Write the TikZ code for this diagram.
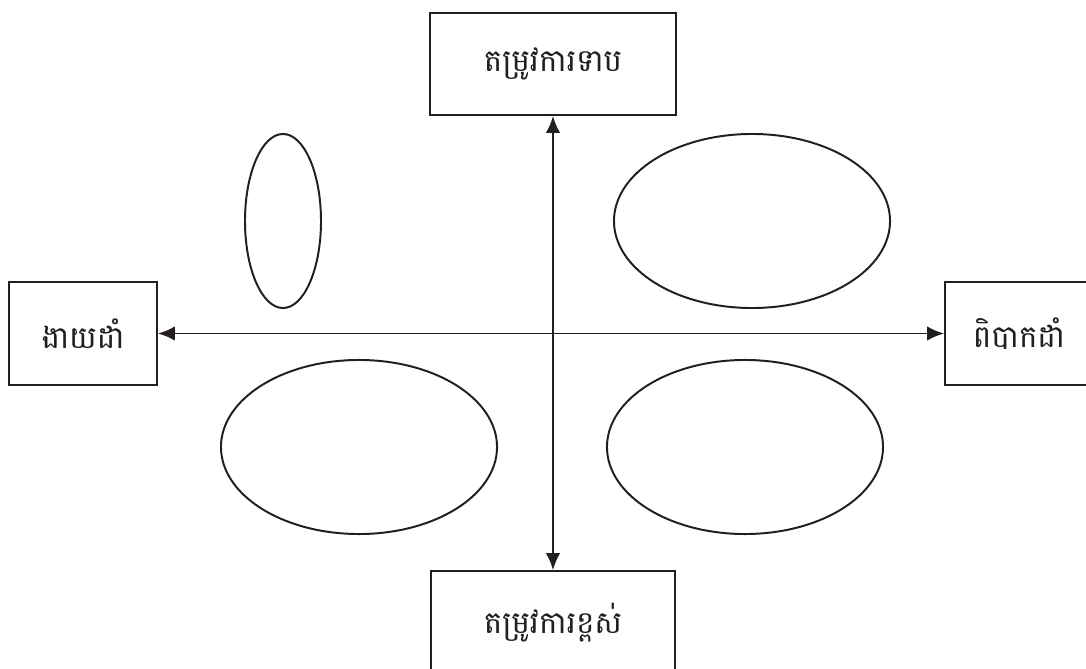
\documentclass[tikz,border=0pt]{standalone}
\usepackage{fontspec}
\newfontfamily\khmerfont[Script=Khmer]{Battambang}
\usetikzlibrary{arrows.meta,shapes.geometric}
\definecolor{ink}{RGB}{35,31,32}
\tikzset{
	axisbox/.style={draw=ink, line width=1.4pt, align=center, inner sep=0pt, font=\khmerfont\fontsize{22}{26}\selectfont, text=ink},
	blob/.style={draw=ink, ellipse, line width=1.4pt, inner sep=0pt, minimum width=6.9cm, minimum height=4.35cm},
	axis/.style={{Latex[length=4.2mm, width=3.6mm]}-{Latex[length=4.2mm, width=3.6mm]}, draw=ink, line width=1.4pt}
}

\begin{document}
\begin{tikzpicture}[x=0.025cm, y=-0.025cm]
	\useasboundingbox (0,0) rectangle (1086,669);
	\clip (0,0) rectangle (1086,669);
	\node[axisbox, minimum width=6.15cm, minimum height=2.55cm] (low) at (553,64) {តម្រូវការទាប};
	\node[axisbox, minimum width=6.1cm, minimum height=2.6cm] (high) at (553,623) {តម្រូវការខ្ពស់};
	\node[axisbox, minimum width=3.7cm, minimum height=2.575cm] (easy) at (83,333.5) {ងាយដាំ};
	\node[axisbox, minimum width=3.7cm, minimum height=2.575cm] (hard) at (1019,333.5) {ពិបាកដាំ};
	\node[blob, minimum width=1.9cm] (tall) at (283,221) {};
	\node[blob] (upright) at (752,221) {};
	\node[blob] (lowleft) at (359,447) {};
	\node[blob] (lowright) at (745,447) {};
	\draw[axis] (low.south) -- (high.north);
	\draw[axis] (easy.east) -- (hard.west);
\end{tikzpicture}
\end{document}
